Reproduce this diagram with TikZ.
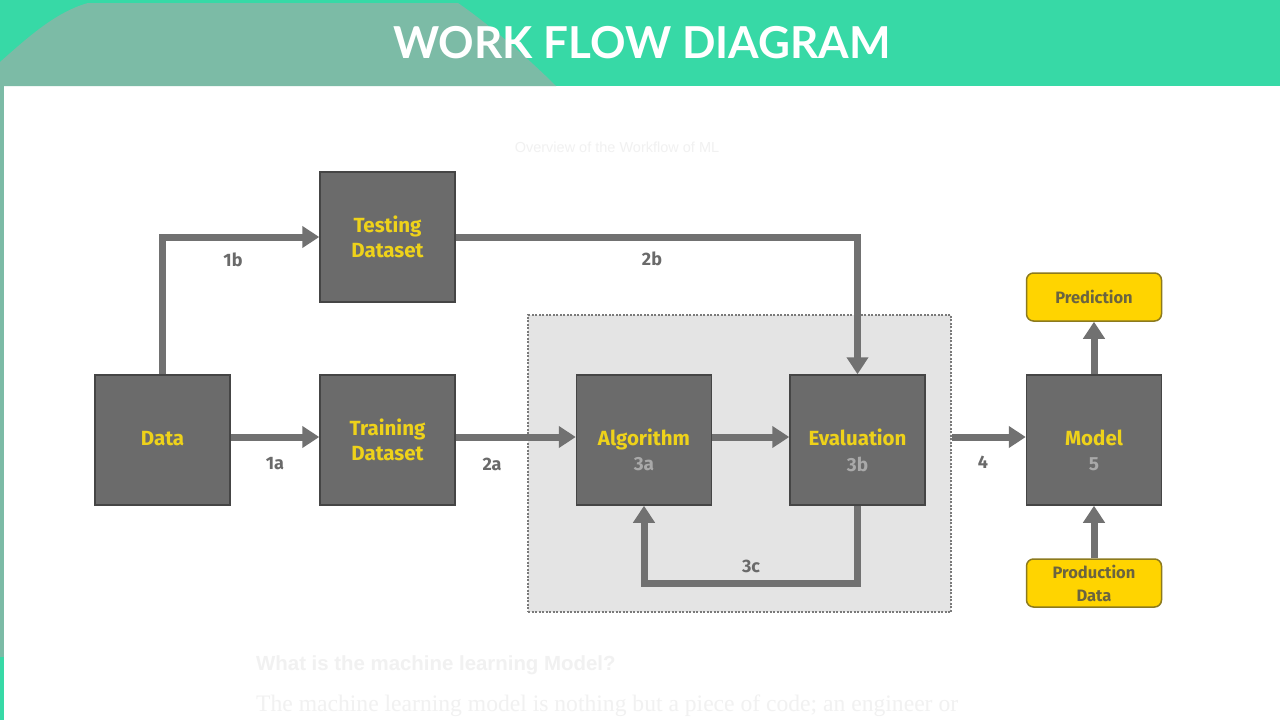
\documentclass[tikz,border=0pt]{standalone}
\usepackage{fontspec}
\usetikzlibrary{arrows.meta}
\newfontfamily\titlefont{Lato}
\newfontfamily\dinfont{Fira Sans}
\newfontfamily\bodysans{Liberation Sans}
\newfontfamily\bodyserif{Liberation Serif}
\definecolor{hdrgreen}{HTML}{37D9A6}
\definecolor{hdrgray}{HTML}{7CBBA6}
\definecolor{boxfill}{HTML}{6B6B6B}
\definecolor{boxline}{HTML}{454545}
\definecolor{arrowgray}{HTML}{717171}
\definecolor{boxyellow}{HTML}{EED21A}
\definecolor{numgray}{HTML}{A9A9A9}
\definecolor{labgray}{HTML}{6A6A6A}
\definecolor{contfill}{HTML}{E4E4E4}
\definecolor{contline}{HTML}{7A7A7A}
\definecolor{yelfill}{HTML}{FFD400}
\definecolor{yelline}{HTML}{8C7A1E}
\definecolor{yeltext}{HTML}{6B6440}
\definecolor{faint}{HTML}{F1F1F1}
\tikzset{
  box/.style={draw=boxline, line width=1.5pt, fill=boxfill, minimum width=135pt, minimum height=130pt, inner sep=0pt, align=center, text=boxyellow, font=\dinfont\bfseries\fontsize{20.5}{25}\selectfont},
  onebox/.style={box, text height=15pt, text depth=5pt},
  num/.style={text=numgray, font=\dinfont\bfseries\fontsize{19}{22}\selectfont, inner sep=0pt},
  ybox/.style={draw=yelline, line width=1.5pt, fill=yelfill, rounded corners=7pt, minimum width=135pt, minimum height=48pt, inner sep=0pt, align=center, text=yeltext, font=\dinfont\bfseries\fontsize{16.5}{23}\selectfont},
  arr/.style={draw=arrowgray, line width=7pt, -{Triangle[width=21pt,length=17pt]}},
  lab/.style={text=labgray, font=\dinfont\bfseries\fontsize{18}{20}\selectfont, inner sep=0pt},
  container/.style={draw=contline, line width=1.2pt, dash pattern=on 2pt off 1.5pt, fill=contfill, minimum width=423pt, minimum height=297pt, inner sep=0pt}
}
\begin{document}
\begin{tikzpicture}[x=1pt,y=-1pt]
\useasboundingbox (0,0) rectangle (1280,720);
\fill[white] (0,0) rectangle (1280,720);
% header
\fill[hdrgreen] (0,0) rectangle (1280,86);
\fill[hdrgray] (0,62) .. controls (25,40) and (55,12) .. (88,3) -- (458,3) .. controls (490,25) and (530,60) .. (556,86) -- (0,86) -- cycle;
\fill[hdrgray] (0,86) rectangle (4,657);
\fill[hdrgreen] (0,657) rectangle (4,720);
\node[text=white, font=\titlefont\bfseries\fontsize{44}{50}\selectfont, inner sep=0pt] (title) at (642,43) {WORK FLOW DIAGRAM};
% faint texts
\node[text=faint, font=\bodysans\fontsize{14.5}{16}\selectfont, inner sep=0pt] (sub) at (617,147) {Overview of the Workflow of ML};
\node[text=faint, font=\bodysans\bfseries\fontsize{20.4}{24}\selectfont, inner sep=0pt, anchor=west] (q) at (256,665) {What is the machine learning Model?};
\node[text=faint, font=\bodyserif\fontsize{23.6}{28}\selectfont, inner sep=0pt, anchor=west] (para) at (256,706) {The machine learning model is nothing but a piece of code; an engineer or};
% container
\node[container] (cont) at (739.5,463.5) {};
% boxes
\node[onebox] (data) at (162.5,440) {Data};
\node[box] (test) at (387.5,237) {Testing\\Dataset};
\node[box] (train) at (387.5,440) {Training\\Dataset};
\node[onebox] (alg) at (644,440) {Algorithm};
\node[onebox] (eval) at (857.5,440) {Evaluation};
\node[onebox] (model) at (1094,440) {Model};
\node[num] (n3a) at ([yshift=-24pt]alg.center) {3a};
\node[num] (n3b) at ([yshift=-24pt]eval.center) {3b};
\node[num] (n5) at ([yshift=-24pt]model.center) {5};
\node[ybox] (pred) at (1094,297) {Prediction};
\node[ybox] (prod) at (1094,583) {Production\\Data};
% connectors
\draw[arr] ([yshift=3pt]data.east) -- ([yshift=3pt]train.west);
\draw[arr] (data.north) |- (test.west);
\draw[arr] (test.east) -| (eval.north);
\draw[arr] ([yshift=3pt]train.east) -- ([yshift=3pt]alg.west);
\draw[arr] ([yshift=3pt]alg.east) -- ([yshift=3pt]eval.west);
\draw[arr] (eval.south) -- ++(0,78) -| (alg.south);
\draw[arr] ([yshift=3pt]cont.east |- model.west) -- ([yshift=3pt]model.west);
\draw[arr] (model.north) -- (pred.south);
\draw[arr] (prod.north) -- (model.south);
% labels
\node[lab] (l1b) at (233,260) {1b};
\node[lab] (l1a) at (275,464) {1a};
\node[lab] (l2b) at (652,259) {2b};
\node[lab] (l2a) at (492,464) {2a};
\node[lab] (l3c) at (751,566) {3c};
\node[lab] (l4) at (983,462) {4};
\end{tikzpicture}
\end{document}
